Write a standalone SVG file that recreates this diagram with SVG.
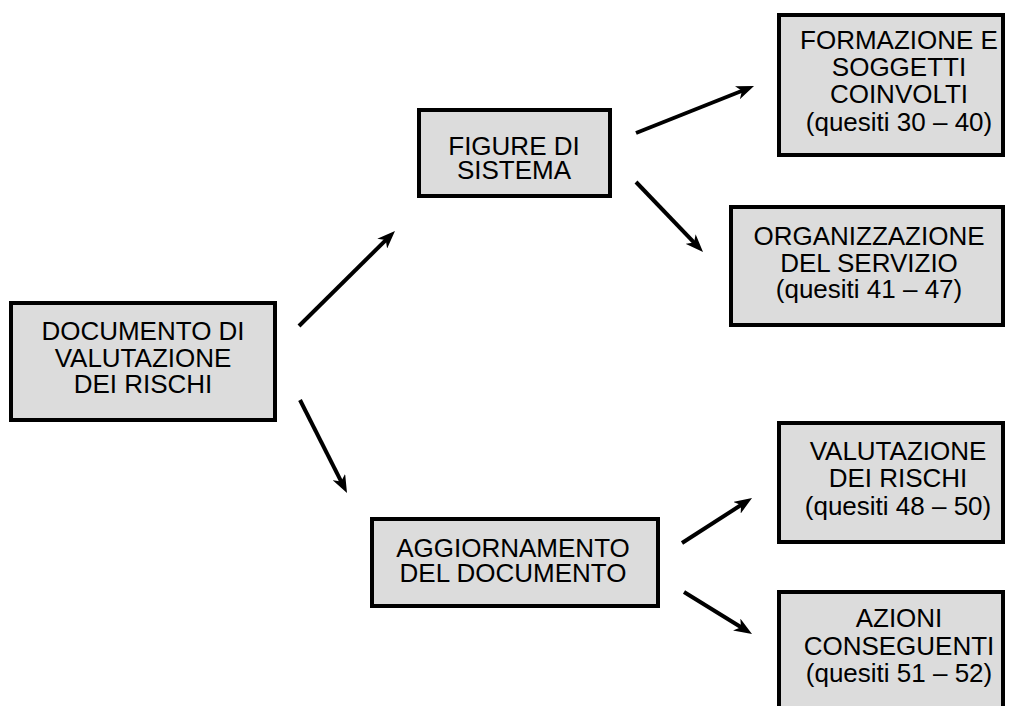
<svg xmlns="http://www.w3.org/2000/svg" width="1010" height="706" viewBox="0 0 1010 706">
<style>
.box{fill:#dcdcdc;stroke:#000;stroke-width:4}
.t{font-family:"Liberation Sans",Arial,sans-serif;font-size:26px;fill:#000;text-anchor:middle}
.c{fill:none;stroke:#000;stroke-width:4;marker-end:url(#ah)}
</style>
<defs>
<marker id="ah" markerUnits="userSpaceOnUse" markerWidth="18" markerHeight="14" refX="10" refY="7" orient="auto">
<path d="M0,0 L18,7 L0,14 L5,7 Z" fill="#000"/>
</marker>
</defs>
<rect width="1010" height="706" fill="#fff"/>
<g id="n1">
<rect class="box" x="11" y="303" width="264" height="117"/>
<text class="t" x="143" y="340">DOCUMENTO DI</text>
<text class="t" x="143" y="367">VALUTAZIONE</text>
<text class="t" x="143" y="393">DEI RISCHI</text>
</g>
<g id="n2">
<rect class="box" x="419" y="110" width="191" height="86"/>
<text class="t" x="514" y="155">FIGURE DI</text>
<text class="t" x="514" y="179">SISTEMA</text>
</g>
<g id="n3">
<rect class="box" x="779" y="15" width="224" height="140"/>
<text class="t" x="899" y="49">FORMAZIONE E</text>
<text class="t" x="899" y="76">SOGGETTI</text>
<text class="t" x="899" y="103">COINVOLTI</text>
<text class="t" x="899" y="131">(quesiti 30 – 40)</text>
</g>
<g id="n4">
<rect class="box" x="731" y="207" width="272" height="118"/>
<text class="t" x="869" y="245">ORGANIZZAZIONE</text>
<text class="t" x="869" y="272">DEL SERVIZIO</text>
<text class="t" x="869" y="298">(quesiti 41 – 47)</text>
</g>
<g id="n5">
<rect class="box" x="372" y="519" width="286" height="87"/>
<text class="t" x="513" y="557">AGGIORNAMENTO</text>
<text class="t" x="513" y="582">DEL DOCUMENTO</text>
</g>
<g id="n6">
<rect class="box" x="779" y="423" width="224" height="119"/>
<text class="t" x="898" y="460">VALUTAZIONE</text>
<text class="t" x="898" y="487">DEI RISCHI</text>
<text class="t" x="898" y="515">(quesiti 48 – 50)</text>
</g>
<g id="n7">
<rect class="box" x="779" y="592" width="224" height="130"/>
<text class="t" x="899" y="627">AZIONI</text>
<text class="t" x="899" y="655">CONSEGUENTI</text>
<text class="t" x="899" y="682">(quesiti 51 – 52)</text>
</g>
<g id="connectors">
<path class="c" d="M299,326 L389.3,236.6"/>
<path class="c" d="M300,400 L343.4,485.9"/>
<path class="c" d="M636,133 L746.6,89"/>
<path class="c" d="M636,182 L697.5,246.2"/>
<path class="c" d="M682,543 L745.3,502.3"/>
<path class="c" d="M684,592 L745.2,629.8"/>
</g>
</svg>
